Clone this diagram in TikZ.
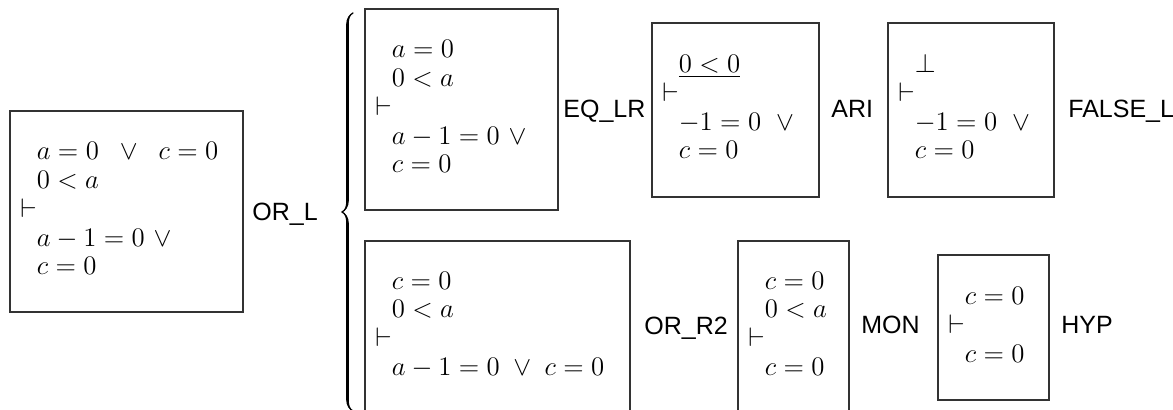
\RequirePackage{fix-cm}
\documentclass[tikz,border=0pt]{standalone}
\usepackage{fontspec}
\setsansfont{Liberation Sans}
\usetikzlibrary{decorations.pathreplacing,calligraphy}
\newcommand{\seqt}[1]{\begin{tabular}{@{}l@{}l@{}}#1\end{tabular}}
\begin{document}
\begin{tikzpicture}[x=0.5pt,y=-0.5pt,
  box/.style 2 args={draw=black!80, line width=0.6pt, minimum width=#1, minimum height=#2, anchor=north west, inner sep=0pt, outer sep=0pt},
  seq/.style={anchor=west, inner sep=0pt, font=\fontsize{13.4pt}{14.4pt}\selectfont},
  lab/.style={anchor=base west, inner sep=0pt, font=\sffamily\fontsize{12.5pt}{14pt}\selectfont}]
\useasboundingbox (0,0) rectangle (1173,410);
% boxes
\node[box={116.5pt}{100.5pt}] (b1) at (10,111) {};
\node[box={96.5pt}{100.5pt}] (b2) at (365,9) {};
\node[box={83.5pt}{87pt}] (b3) at (652,23) {};
\node[box={83pt}{87pt}] (b4) at (888,23) {};
\node[box={132.5pt}{85.5pt}] (b5) at (365,241) {};
\node[box={55.5pt}{85.5pt}] (b6) at (738,241) {};
\node[box={55.5pt}{72.5pt}] (b7) at (938,255) {};
% contents
\node[seq] (s1) at ([xshift=5pt]b1.west) {\seqt{
 & $a = 0 \mskip 14mu{\vee}\mskip 14mu c = 0$ \\
 & $0 < a$ \\
 $\vdash$ & \\
 & $a - 1 = 0\ \vee$ \\
 & $c = 0$}};
\node[seq] (s2) at ([xshift=5pt]b2.west) {\seqt{
 & $a = 0$ \\
 & $0 < a$ \\
 $\vdash$ & \\
 & $a - 1 = 0\ \vee$ \\
 & $c = 0$}};
\node[seq] (s3) at ([xshift=5pt]b3.west) {\seqt{
 & $\underline{0 < 0}$ \\
 $\vdash$ & \\
 & $-1 = 0\;\;\vee$ \\
 & $c = 0$}};
\node[seq] (s4) at ([xshift=5pt]b4.west) {\seqt{
 & $\bot$ \\
 $\vdash$ & \\
 & $-1 = 0\;\;\vee$ \\
 & $c = 0$}};
\node[seq] (s5) at ([xshift=5pt]b5.west) {\seqt{
 & $c = 0$ \\
 & $0 < a$ \\
 $\vdash$ & \\
 & $a - 1 = 0 \;\vee\; c = 0$}};
\node[seq] (s6) at ([xshift=5pt]b6.west) {\seqt{
 & $c = 0$ \\
 & $0 < a$ \\
 $\vdash$ & \\
 & $c = 0$}};
\node[seq] (s7) at ([xshift=5pt]b7.west) {\seqt{
 & $c = 0$ \\
 $\vdash$ & \\
 & $c = 0$}};
% rule labels
\node[lab] (l1) at (252,221) {OR\_L};
\node[lab] (l2) at (563,118) {EQ\_LR};
\node[lab] (l3) at (831,118) {ARI};
\node[lab] (l4) at (1068,118) {FALSE\_L};
\node[lab] (l5) at (644,335) {OR\_R2};
\node[lab] (l6) at (861,334) {MON};
\node[lab] (l7) at (1061,334) {HYP};
% brace
\coordinate (bt) at (353,13);
\coordinate (bb) at (353,411);
\draw[decorate, decoration={calligraphic brace, amplitude=5.5pt}, line width=1.3pt] (bb) -- (bt);
\end{tikzpicture}
\end{document}
